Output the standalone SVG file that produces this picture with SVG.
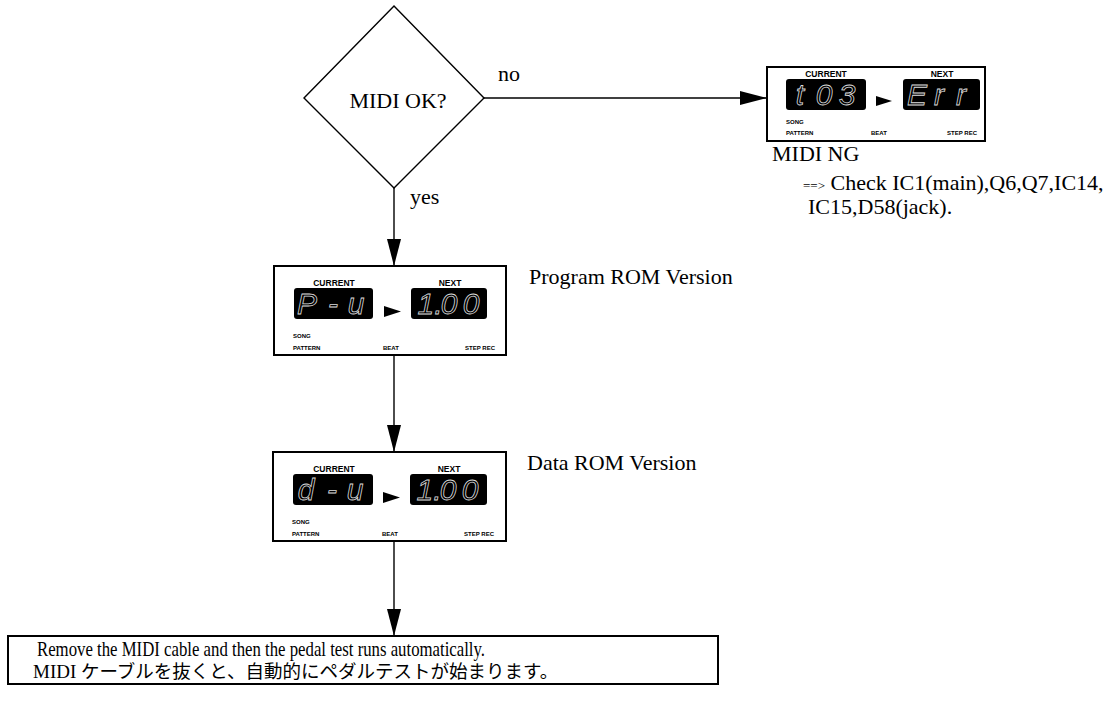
<svg xmlns="http://www.w3.org/2000/svg" width="1115" height="706" viewBox="0 0 1115 706">
<defs>
<style>
.ser{font-family:"Liberation Serif","Times New Roman",serif;font-size:22px;fill:#000}
.jp{font-family:"Liberation Serif","Noto Sans CJK JP",serif;font-size:18.5px;fill:#000}
.frame{fill:#fff;stroke:#000;stroke-width:2}
.lcd{fill:#000}
.lbl{font-family:"Liberation Sans",Arial,sans-serif;font-weight:bold;font-size:8.5px;fill:#000}
.sm{font-family:"Liberation Sans",Arial,sans-serif;font-weight:bold;font-size:6px;fill:#000}
.seg{font-family:"Liberation Sans",Arial,sans-serif;font-style:italic;font-size:30px;fill:none;stroke:#ddd;stroke-width:0.8;text-anchor:middle}
.line{stroke:#000;stroke-width:1.4;fill:none}
</style>
<marker id="ah" markerUnits="userSpaceOnUse" markerWidth="28" markerHeight="14" refX="27" refY="7" orient="auto">
<path d="M0,0 L27,7 L0,14 z" fill="#000"/>
</marker>
</defs>
<rect width="1115" height="706" fill="#fff"/>

<g id="connectors">
<line class="line" x1="484" y1="98" x2="767" y2="98" marker-end="url(#ah)"/>
<line class="line" x1="394" y1="188" x2="394" y2="266" marker-end="url(#ah)"/>
<line class="line" x1="394" y1="355" x2="394" y2="452" marker-end="url(#ah)"/>
<line class="line" x1="394" y1="541" x2="394" y2="636" marker-end="url(#ah)"/>
<text class="ser" x="498" y="81">no</text>
<text class="ser" x="410" y="204">yes</text>
</g>

<g id="decision">
<polygon points="394,6 484,98 394,188 304,98" fill="#fff" stroke="#000" stroke-width="1.4"/>
<text class="ser" x="398" y="108" text-anchor="middle">MIDI OK?</text>
</g>

<g id="midi-ng" transform="translate(767,67)">
<rect class="frame" x="0" y="0" width="218" height="74"/>
<text class="lbl" x="59" y="10" text-anchor="middle">CURRENT</text>
<text class="lbl" x="175" y="10" text-anchor="middle">NEXT</text>
<rect class="lcd" x="19" y="12" width="80" height="31" rx="3"/>
<rect class="lcd" x="136" y="12" width="77" height="31" rx="3"/>
<polygon points="109,29 125,34 109,39" fill="#000"/>
<text class="seg" y="38"><tspan x="33">t</tspan><tspan x="57">0</tspan><tspan x="80">3</tspan></text>
<text class="seg" y="38"><tspan x="150">E</tspan><tspan x="172">r</tspan><tspan x="194">r</tspan></text>
<text class="sm" x="19" y="57">SONG</text>
<text class="sm" x="19" y="68">PATTERN</text>
<text class="sm" x="104" y="68">BEAT</text>
<text class="sm" x="210" y="68" text-anchor="end">STEP REC</text>
</g>
<g id="midi-ng-text">
<text class="ser" x="772" y="161" font-size="20">MIDI NG</text>
<text class="ser" x="803" y="190" font-size="20"><tspan font-size="13">==&gt;</tspan> Check IC1(main),Q6,Q7,IC14,</text>
<text class="ser" x="808" y="214" font-size="20">IC15,D58(jack).</text>
</g>

<g id="program-rom" transform="translate(274,266)">
<rect class="frame" x="0" y="0" width="232" height="89"/>
<text class="lbl" x="60" y="20" text-anchor="middle">CURRENT</text>
<text class="lbl" x="176" y="20" text-anchor="middle">NEXT</text>
<rect class="lcd" x="20" y="22" width="79" height="31" rx="3"/>
<rect class="lcd" x="137" y="22" width="76" height="31" rx="3"/>
<polygon points="110,40 127,45.5 110,51" fill="#000"/>
<text class="seg" y="48"><tspan x="33">P</tspan><tspan x="59">-</tspan><tspan x="82">u</tspan></text>
<text class="seg" y="48"><tspan x="156">1.</tspan><tspan x="175">0</tspan><tspan x="197">0</tspan></text>
<text class="sm" x="19" y="72">SONG</text>
<text class="sm" x="19" y="84">PATTERN</text>
<text class="sm" x="109" y="84">BEAT</text>
<text class="sm" x="221" y="84" text-anchor="end">STEP REC</text>
</g>
<text class="ser" x="529" y="284">Program ROM Version</text>

<g id="data-rom" transform="translate(273,452)">
<rect class="frame" x="0" y="0" width="233" height="89"/>
<text class="lbl" x="61" y="20" text-anchor="middle">CURRENT</text>
<text class="lbl" x="176" y="20" text-anchor="middle">NEXT</text>
<rect class="lcd" x="20" y="22" width="80" height="31" rx="3"/>
<rect class="lcd" x="137" y="22" width="77" height="31" rx="3"/>
<polygon points="110,40 127,45.5 110,51" fill="#000"/>
<text class="seg" y="48"><tspan x="33">d</tspan><tspan x="59">-</tspan><tspan x="82">u</tspan></text>
<text class="seg" y="48"><tspan x="156">1.</tspan><tspan x="175">0</tspan><tspan x="197">0</tspan></text>
<text class="sm" x="19" y="72">SONG</text>
<text class="sm" x="19" y="84">PATTERN</text>
<text class="sm" x="109" y="84">BEAT</text>
<text class="sm" x="221" y="84" text-anchor="end">STEP REC</text>
</g>
<text class="ser" x="527" y="470">Data ROM Version</text>

<g id="pedal-test">
<rect class="frame" x="8" y="636" width="710" height="48"/>
<text class="ser" x="37" y="656" font-size="19.5" textLength="448" lengthAdjust="spacingAndGlyphs">Remove the MIDI cable and then the pedal test runs automatically.</text>
<text class="jp" x="33" y="678"><tspan font-size="19">MIDI</tspan> ケーブルを抜くと、自動的にペダルテストが始まります。</text>
</g>
</svg>
